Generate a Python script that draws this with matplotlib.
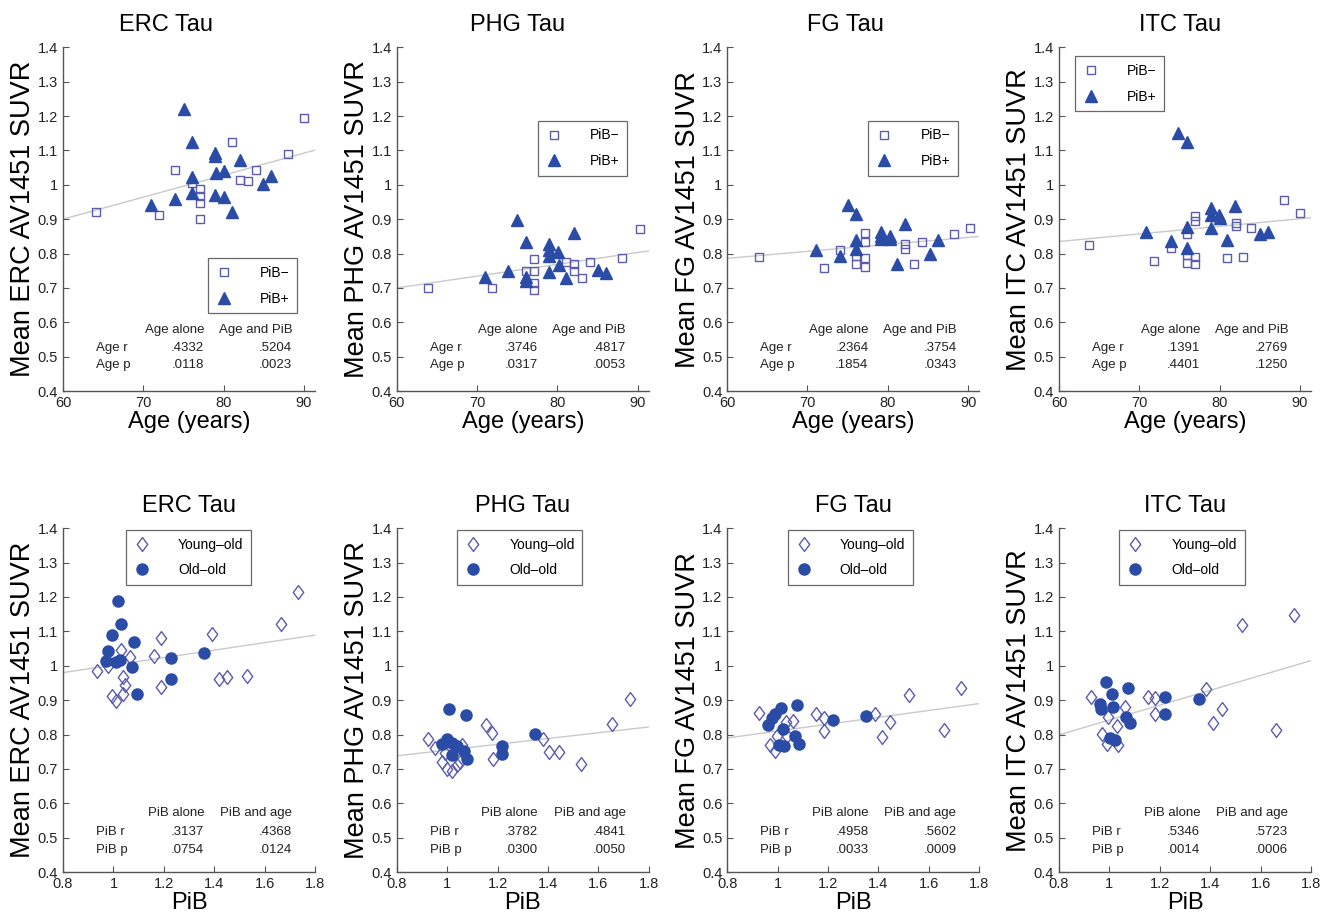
import matplotlib
matplotlib.use("Agg")
import matplotlib.pyplot as plt
import numpy as np

plt.rcParams['font.family'] = ['Liberation Sans', 'DejaVu Sans']

# ---- data: top row (tau vs age, split by PiB status) ----
regions = ['ERC', 'PHG', 'FG', 'ITC']

erc_age_neg = [64.1, 72.0, 74.0, 76.0, 77.1, 77.1, 77.1, 77.1, 81.0, 82.0, 83.0, 84.0, 88.0, 90.0]
erc_tau_neg = [0.920, 0.911, 1.043, 1.006, 0.987, 0.966, 0.946, 0.900, 1.125, 1.014, 1.010, 1.043, 1.089, 1.193]
erc_age_pos = [75.1, 76.0, 78.9, 78.9, 82.0, 76.0, 79.0, 80.0, 85.9, 84.9, 71.0, 74.0, 76.0, 78.9, 80.0, 81.0]
erc_tau_pos = [1.219, 1.125, 1.091, 1.083, 1.071, 1.023, 1.033, 1.040, 1.026, 1.001, 0.942, 0.960, 0.975, 0.971, 0.965, 0.922]

phg_age_neg = [63.9, 71.9, 77.1, 77.1, 76.1, 77.1, 77.1, 81.1, 82.1, 82.1, 83.1, 84.1, 88.1, 90.3]
phg_tau_neg = [0.700, 0.700, 0.783, 0.750, 0.748, 0.714, 0.693, 0.774, 0.769, 0.748, 0.729, 0.774, 0.786, 0.870]
phg_age_pos = [75.0, 76.1, 82.1, 79.0, 79.0, 79.0, 80.1, 80.2, 79.0, 71.0, 73.9, 76.1, 76.1, 81.1, 85.1, 86.1]
phg_tau_pos = [0.898, 0.833, 0.860, 0.829, 0.810, 0.793, 0.805, 0.767, 0.745, 0.733, 0.750, 0.733, 0.719, 0.729, 0.752, 0.743]

fg_age_neg = [64.0, 72.1, 74.0, 76.1, 76.1, 77.2, 77.2, 77.2, 77.2, 82.2, 82.2, 83.3, 84.3, 88.3, 90.3]
fg_tau_neg = [0.790, 0.757, 0.809, 0.792, 0.771, 0.861, 0.833, 0.788, 0.761, 0.828, 0.813, 0.769, 0.835, 0.856, 0.875]
fg_age_pos = [75.1, 76.1, 82.2, 79.1, 79.1, 79.2, 80.3, 80.3, 76.1, 76.1, 71.1, 74.0, 81.1, 85.3, 86.3]
fg_tau_pos = [0.940, 0.916, 0.886, 0.864, 0.852, 0.843, 0.852, 0.843, 0.838, 0.814, 0.811, 0.794, 0.770, 0.800, 0.840]

itc_age_neg = [63.8, 71.9, 73.9, 75.9, 75.9, 75.9, 76.9, 76.9, 76.9, 76.9, 80.9, 82.0, 82.0, 82.9, 83.9, 88.0, 90.0]
itc_tau_neg = [0.825, 0.777, 0.815, 0.856, 0.796, 0.772, 0.910, 0.894, 0.791, 0.770, 0.787, 0.890, 0.881, 0.791, 0.875, 0.955, 0.919]
itc_age_pos = [74.8, 75.9, 81.9, 78.9, 78.9, 79.9, 80.1, 78.9, 75.9, 70.9, 73.9, 75.9, 80.9, 85.0, 86.0]
itc_tau_pos = [1.152, 1.123, 0.938, 0.933, 0.912, 0.912, 0.904, 0.875, 0.878, 0.863, 0.837, 0.815, 0.839, 0.856, 0.863]

# fitted line values at age 60 and age 90
age_fit_x = [60, 90]
age_fit_erc = [0.900, 1.092]
age_fit_phg = [0.700, 0.803]
age_fit_fg = [0.786, 0.847]
age_fit_itc = [0.835, 0.901]

age_r = [('.4332', '.5204'), ('.3746', '.4817'), ('.2364', '.3754'), ('.1391', '.2769')]
age_p = [('.0118', '.0023'), ('.0317', '.0053'), ('.1854', '.0343'), ('.4401', '.1250')]

# ---- data: bottom row (tau vs PiB, split by age group) ----
erc_pib_old = [1.018, 1.029, 0.995, 1.081, 0.979, 0.972, 1.009, 1.025, 1.075, 1.229, 1.229, 1.093, 1.358]
erc_tau_old = [1.189, 1.122, 1.089, 1.070, 1.043, 1.014, 1.010, 1.017, 0.995, 1.022, 0.962, 0.919, 1.038]
erc_pib_young = [0.935, 0.979, 1.031, 1.067, 1.038, 1.045, 0.996, 1.012, 1.038, 1.160, 1.189, 1.189,
                 1.389, 1.417, 1.452, 1.531, 1.663, 1.731]
erc_tau_young = [0.986, 0.998, 1.046, 1.024, 0.967, 0.943, 0.912, 0.898, 0.919, 1.027, 1.081, 0.938,
                 1.091, 0.960, 0.967, 0.969, 1.122, 1.215]

phg_pib_old = [1.007, 1.073, 1.349, 1.000, 0.980, 1.020, 1.040, 1.218, 1.218, 1.065, 1.080, 1.020]
phg_tau_old = [0.873, 0.856, 0.802, 0.786, 0.771, 0.776, 0.767, 0.767, 0.743, 0.752, 0.730, 0.740]
phg_pib_young = [0.924, 1.152, 1.178, 1.381, 1.405, 1.442, 1.530, 1.652, 1.724, 1.180, 0.980, 1.000,
                 1.020, 1.040, 1.050, 0.990, 1.060, 0.950]
phg_tau_young = [0.788, 0.829, 0.803, 0.788, 0.748, 0.750, 0.715, 0.831, 0.902, 0.730, 0.720, 0.700,
                 0.695, 0.710, 0.720, 0.745, 0.770, 0.760]

fg_pib_old = [1.075, 1.012, 0.990, 0.977, 0.963, 1.020, 1.069, 1.086, 1.007, 1.027, 1.220, 1.352]
fg_tau_old = [0.886, 0.878, 0.860, 0.848, 0.829, 0.816, 0.797, 0.771, 0.769, 0.767, 0.843, 0.854]
fg_pib_young = [0.928, 1.033, 1.062, 1.154, 1.185, 1.185, 1.385, 1.444, 1.414, 1.523, 1.658, 1.728,
                0.970, 0.990, 0.996, 1.036]
fg_tau_young = [0.862, 0.835, 0.838, 0.860, 0.848, 0.810, 0.860, 0.835, 0.793, 0.914, 0.812, 0.936,
                0.769, 0.752, 0.795, 0.795]

itc_pib_old = [0.987, 1.010, 1.074, 0.961, 0.966, 1.016, 1.067, 1.083, 1.003, 1.023, 1.220, 1.222, 1.355]
itc_tau_old = [0.954, 0.917, 0.935, 0.888, 0.874, 0.879, 0.852, 0.834, 0.791, 0.783, 0.908, 0.860, 0.903]
itc_pib_young = [0.926, 0.994, 1.030, 1.063, 1.153, 1.182, 0.970, 0.990, 1.036, 1.382, 1.448, 1.412,
                 1.528, 1.661, 1.731, 1.180]
itc_tau_young = [0.908, 0.852, 0.826, 0.879, 0.910, 0.860, 0.802, 0.773, 0.769, 0.932, 0.874, 0.833,
                 1.119, 0.814, 1.148, 0.906]

# fitted line values at PiB 0.8 and 1.8
pib_fit_x = [0.8, 1.8]
pib_fit_erc = [0.980, 1.089]
pib_fit_phg = [0.738, 0.822]
pib_fit_fg = [0.790, 0.890]
pib_fit_itc = [0.799, 1.015]

pib_r = [('.3137', '.4368'), ('.3782', '.4841'), ('.4958', '.5602'), ('.5346', '.5723')]
pib_p = [('.0754', '.0124'), ('.0300', '.0050'), ('.0033', '.0009'), ('.0014', '.0006')]

yticks = [0.4, 0.5, 0.6, 0.7, 0.8, 0.9, 1.0, 1.1, 1.2, 1.3, 1.4]
ytick_labels = ['0.4', '0.5', '0.6', '0.7', '0.8', '0.9', '1', '1.1', '1.2', '1.3', '1.4']
age_ticks = [60, 70, 80, 90]
pib_ticks = [0.8, 1.0, 1.2, 1.4, 1.6, 1.8]
pib_tick_labels = ['0.8', '1', '1.2', '1.4', '1.6', '1.8']

top_data = [
    (erc_age_neg, erc_tau_neg, erc_age_pos, erc_tau_pos, age_fit_erc),
    (phg_age_neg, phg_tau_neg, phg_age_pos, phg_tau_pos, age_fit_phg),
    (fg_age_neg, fg_tau_neg, fg_age_pos, fg_tau_pos, age_fit_fg),
    (itc_age_neg, itc_tau_neg, itc_age_pos, itc_tau_pos, age_fit_itc),
]
bottom_data = [
    (erc_pib_young, erc_tau_young, erc_pib_old, erc_tau_old, pib_fit_erc),
    (phg_pib_young, phg_tau_young, phg_pib_old, phg_tau_old, pib_fit_phg),
    (fg_pib_young, fg_tau_young, fg_pib_old, fg_tau_old, pib_fit_fg),
    (itc_pib_young, itc_tau_young, itc_pib_old, itc_tau_old, pib_fit_itc),
]

# legend anchors (upper-left corner, axes fraction)
top_legend_pos = [(0.575, 0.386), (0.56, 0.786), (0.56, 0.786), (0.063, 0.974)]
bottom_legend_pos = [(0.25, 0.995), (0.24, 0.995), (0.24, 0.995), (0.24, 0.995)]
# title centre (axes fraction) -- the first panel's title sits left of centre
top_title_x = [0.41, 0.48, 0.47, 0.48]
bottom_title_x = [0.5, 0.5, 0.5, 0.5]

FILL = '#2a4ca6'
OPEN = '#5b5cae'
LINE = '#c9c9c9'
AXC = '#555555'
diamond = [(0, 1), (0.75, 0), (0, -1), (-0.75, 0), (0, 1)]

fig = plt.figure(figsize=(13.27, 9.17), dpi=100)
lefts = [0.0475, 0.299, 0.548, 0.798]
W, H = 0.19, 0.375


def style_axes(ax):
    for s in ['top', 'right']:
        ax.spines[s].set_visible(False)
    for s in ['left', 'bottom']:
        ax.spines[s].set_color(AXC)
        ax.spines[s].set_linewidth(1.0)
    ax.tick_params(direction='in', length=4, width=0.8, colors=AXC,
                   labelcolor='#222222', labelsize=10.5)
    ax.set_ylim(0.4, 1.4)
    ax.set_yticks(yticks)
    ax.set_yticklabels(ytick_labels)


def stats_text(ax, name, head1, head2, r_vals, p_vals, ys):
    kw = dict(transform=ax.transAxes, fontsize=9.5, color='#222222')
    ax.text(0.56, ys[0], head1, ha='right', va='center', **kw)
    ax.text(0.909, ys[0], head2, ha='right', va='center', **kw)
    ax.text(0.131, ys[1], name + ' r', ha='left', va='center', **kw)
    ax.text(0.56, ys[1], r_vals[0], ha='right', va='center', **kw)
    ax.text(0.909, ys[1], r_vals[1], ha='right', va='center', **kw)
    ax.text(0.131, ys[2], name + ' p', ha='left', va='center', **kw)
    ax.text(0.56, ys[2], p_vals[0], ha='right', va='center', **kw)
    ax.text(0.909, ys[2], p_vals[1], ha='right', va='center', **kw)


def add_legend(ax, anchor):
    leg = ax.legend(loc='upper left', bbox_to_anchor=anchor, fontsize=10,
                    frameon=True, fancybox=False, edgecolor='#444444', borderpad=0.55,
                    handlelength=1.2, handletextpad=2.0, labelspacing=0.85,
                    borderaxespad=0.0)
    leg.get_frame().set_linewidth(0.9)


# top row
for i, reg in enumerate(regions):
    ax = fig.add_axes([lefts[i], 0.5735, W, H])
    style_axes(ax)
    xn, yn, xp, yp, fit = top_data[i]
    xlim = (60, 91.4)
    slope = (fit[1] - fit[0]) / (age_fit_x[1] - age_fit_x[0])
    fx = np.array(xlim)
    ax.plot(fx, fit[0] + slope * (fx - age_fit_x[0]), color=LINE, lw=1.0, zorder=1)
    ax.plot(xn, yn, 's', ms=6, mfc='none', mec=OPEN, mew=1.0, ls='none', label='PiB\u2212', zorder=2)
    ax.plot(xp, yp, '^', ms=9, mfc=FILL, mec=FILL, ls='none', label='PiB+', zorder=3)
    ax.set_xlim(*xlim)
    ax.set_xticks(age_ticks)
    ax.set_title(reg + ' Tau', fontsize=17, pad=12, x=top_title_x[i])
    ax.set_xlabel('Age (years)', fontsize=17, labelpad=1)
    ax.set_ylabel('Mean ' + reg + ' AV1451 SUVR', fontsize=19.5, labelpad=1)
    add_legend(ax, top_legend_pos[i])
    stats_text(ax, 'Age', 'Age alone', 'Age and PiB', age_r[i], age_p[i], (0.177, 0.125, 0.075))

# bottom row
for i, reg in enumerate(regions):
    ax = fig.add_axes([lefts[i], 0.049, W, H])
    style_axes(ax)
    xy, yy, xo, yo, fit = bottom_data[i]
    xlim = (0.8, 1.8)
    slope = (fit[1] - fit[0]) / (pib_fit_x[1] - pib_fit_x[0])
    fx = np.array(xlim)
    ax.plot(fx, fit[0] + slope * (fx - pib_fit_x[0]), color=LINE, lw=1.0, zorder=1)
    ax.plot(xy, yy, marker=diamond, ms=10, mfc='none', mec=OPEN, mew=1.0, ls='none',
            label='Young\u2013old', zorder=2)
    ax.plot(xo, yo, 'o', ms=8, mfc=FILL, mec=FILL, ls='none', label='Old\u2013old', zorder=3)
    ax.set_xlim(*xlim)
    ax.set_xticks(pib_ticks)
    ax.set_xticklabels(pib_tick_labels)
    ax.set_title(reg + ' Tau', fontsize=17, pad=12, x=bottom_title_x[i])
    ax.set_xlabel('PiB', fontsize=17, labelpad=1)
    ax.set_ylabel('Mean ' + reg + ' AV1451 SUVR', fontsize=19.5, labelpad=1)
    add_legend(ax, bottom_legend_pos[i])
    stats_text(ax, 'PiB', 'PiB alone', 'PiB and age', pib_r[i], pib_p[i], (0.173, 0.117, 0.064))

fig.savefig('out.png', dpi=100, facecolor='white')
